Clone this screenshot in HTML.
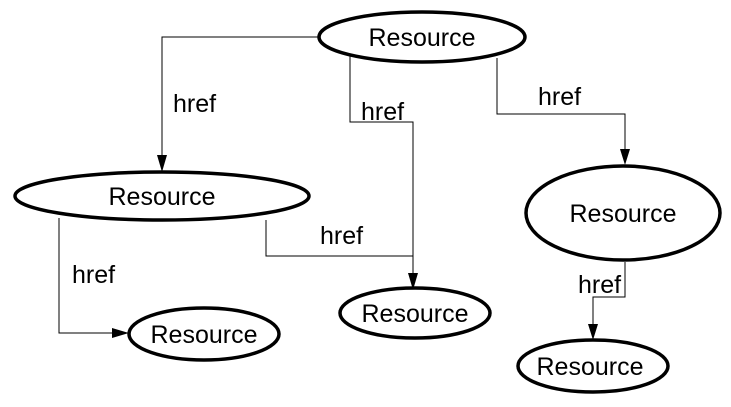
<!DOCTYPE html>
<html><head><meta charset="utf-8"><style>
html,body{margin:0;padding:0;background:#fff;}
svg{display:block;}
text{font-family:"Liberation Sans",sans-serif;fill:#000;}
</style></head><body>
<svg width="731" height="407" viewBox="0 0 731 407" xmlns="http://www.w3.org/2000/svg">
<g fill="none" stroke="#000" stroke-width="1">
<polyline points="320,37 162,37 162,158"/>
<polyline points="350,56 350,122 413,122 413,276"/>
<polyline points="497,58 497,114 625,114 625,152"/>
<polyline points="59,218 59,333 116,333"/>
<polyline points="266,220 266,256 413,256"/>
<polyline points="625,262 625,297 593,297 593,327"/>
</g>
<g fill="#000">
<polygon points="157,155 167,155 162,172"/>
<polygon points="408,273 418,273 413,290"/>
<polygon points="620,149 630,149 625,165"/>
<polygon points="112,328 112,338 129,333"/>
<polygon points="588,324 598,324 593,340"/>
</g>
<g fill="#fff" stroke="#000" stroke-width="3.5">
<ellipse cx="422" cy="37" rx="103" ry="25"/>
<ellipse cx="162" cy="196" rx="147" ry="24"/>
<ellipse cx="623" cy="213" rx="97" ry="47"/>
<ellipse cx="415" cy="313" rx="75" ry="25"/>
<ellipse cx="204" cy="334" rx="75" ry="26"/>
<ellipse cx="593" cy="366" rx="75" ry="26"/>
</g>
<g font-size="25" text-anchor="middle">
<text x="422" y="46">Resource</text>
<text x="162" y="205">Resource</text>
<text x="623" y="222">Resource</text>
<text x="415" y="322">Resource</text>
<text x="204" y="343">Resource</text>
<text x="590" y="375">Resource</text>
</g>
<g font-size="25">
<text x="173" y="112">href</text>
<text x="361" y="120">href</text>
<text x="538" y="105">href</text>
<text x="72" y="283">href</text>
<text x="320" y="244">href</text>
<text x="578" y="293">href</text>
</g>
</svg>
</body></html>
